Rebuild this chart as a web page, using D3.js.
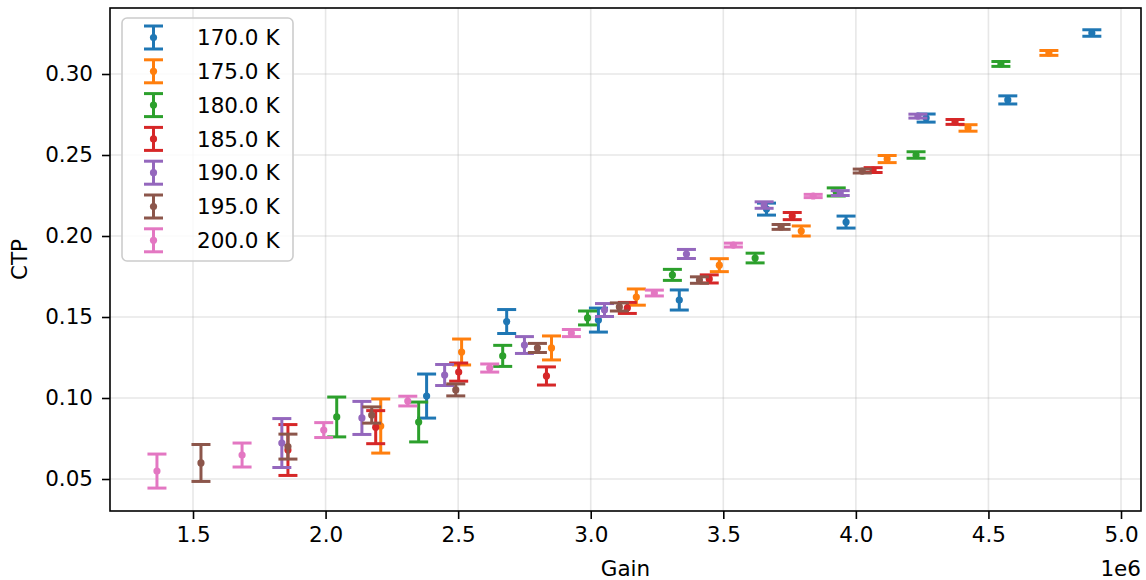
<!DOCTYPE html>
<html>
<head>
<meta charset="utf-8">
<script src="https://cdn.jsdelivr.net/npm/d3@7"></script>
<style>
  html, body { margin: 0; padding: 0; background: #fff; }
  svg { display: block; font-family: "DejaVu Sans", sans-serif; }
</style>
</head>
<body>
<svg id="chart" width="1146" height="580"></svg>
<script>
// Temperatures of each measurement series (K)
const temps = [170, 175, 180, 185, 190, 195, 200];
const colors = ["#1f77b4", "#ff7f0e", "#2ca02c", "#d62728", "#9467bd", "#8c564b", "#e377c2"];

// Gain (x 1e6), CTP and CTP uncertainty for each temperature
const gain170 = [2.381, 2.683, 3.029, 3.334, 3.663, 3.963, 4.265, 4.573, 4.890];
const ctp170  = [0.1012, 0.1472, 0.1481, 0.1605, 0.2166, 0.2086, 0.2728, 0.2840, 0.3253];
const err170  = [0.0136, 0.0074, 0.0074, 0.0062, 0.0037, 0.0037, 0.0025, 0.0025, 0.0020];

const gain175 = [2.208, 2.513, 2.852, 3.172, 3.485, 3.794, 4.118, 4.423, 4.728];
const ctp175  = [0.0827, 0.1284, 0.1309, 0.1623, 0.1820, 0.2031, 0.2475, 0.2667, 0.3130];
const err175  = [0.0167, 0.0080, 0.0074, 0.0050, 0.0040, 0.0031, 0.0022, 0.0020, 0.0015];

const gain180 = [2.042, 2.351, 2.668, 2.988, 3.308, 3.620, 3.926, 4.227, 4.547];
const ctp180  = [0.0883, 0.0852, 0.1260, 0.1494, 0.1760, 0.1864, 0.2272, 0.2500, 0.3062];
const err180  = [0.0123, 0.0123, 0.0065, 0.0043, 0.0034, 0.0030, 0.0025, 0.0020, 0.0015];

const gain185 = [1.858, 2.189, 2.502, 2.833, 3.138, 3.447, 3.760, 4.065, 4.374];
const ctp185  = [0.0679, 0.0820, 0.1160, 0.1136, 0.1556, 0.1735, 0.2123, 0.2407, 0.2704];
const err185  = [0.0157, 0.0102, 0.0056, 0.0056, 0.0034, 0.0025, 0.0022, 0.0015, 0.0015];

const gain190 = [1.835, 2.137, 2.449, 2.750, 3.052, 3.361, 3.654, 3.941, 4.234];
const ctp190  = [0.0722, 0.0877, 0.1142, 0.1327, 0.1543, 0.1889, 0.2191, 0.2265, 0.2740];
const err190  = [0.0151, 0.0102, 0.0065, 0.0052, 0.0040, 0.0028, 0.0020, 0.0015, 0.0012];

const gain195 = [1.530, 1.858, 2.174, 2.491, 2.799, 3.108, 3.410, 3.718, 4.024];
const ctp195  = [0.0599, 0.0700, 0.0895, 0.1050, 0.1309, 0.1562, 0.1728, 0.2056, 0.2401];
const err195  = [0.0114, 0.0077, 0.0050, 0.0037, 0.0028, 0.0025, 0.0020, 0.0015, 0.0012];

const gain200 = [1.364, 1.685, 1.993, 2.310, 2.619, 2.927, 3.240, 3.538, 3.839];
const ctp200  = [0.0549, 0.0648, 0.0802, 0.0981, 0.1185, 0.1401, 0.1648, 0.1944, 0.2247];
const err200  = [0.0105, 0.0074, 0.0046, 0.0030, 0.0025, 0.0022, 0.0018, 0.0012, 0.0010];

const xTicks = [1.5, 2.0, 2.5, 3.0, 3.5, 4.0, 4.5, 5.0];
const yTicks = [0.05, 0.10, 0.15, 0.20, 0.25, 0.30];

const gains = [gain170, gain175, gain180, gain185, gain190, gain195, gain200];
const ctps  = [ctp170, ctp175, ctp180, ctp185, ctp190, ctp195, ctp200];
const errs  = [err170, err175, err180, err185, err190, err195, err200];

const series = temps.map((t, i) => ({
  label: t.toFixed(1) + " K",
  color: colors[i],
  points: gains[i].map((g, j) => ({ x: g * 1e6, y: ctps[i][j], e: errs[i][j] }))
}));

const svg = d3.select("#chart");
const plot = { left: 110, right: 1141, top: 8, bottom: 511 };

const x = d3.scaleLinear().domain([1.1869e6, 5.0754e6]).range([plot.left, plot.right]);
const y = d3.scaleLinear().domain([0.03025, 0.34074]).range([plot.bottom, plot.top]);

const fontSize = 21.5;

// grid
const grid = svg.append("g");
grid.selectAll(".gx").data(xTicks).join("line")
  .attr("x1", d => x(d * 1e6)).attr("x2", d => x(d * 1e6))
  .attr("y1", plot.top).attr("y2", plot.bottom)
  .attr("stroke", "#b0b0b0").attr("stroke-opacity", 0.3).attr("stroke-width", 1.6);
grid.selectAll(".gy").data(yTicks).join("line")
  .attr("x1", plot.left).attr("x2", plot.right)
  .attr("y1", d => y(d)).attr("y2", d => y(d))
  .attr("stroke", "#b0b0b0").attr("stroke-opacity", 0.3).attr("stroke-width", 1.6);

// error bars
const capHalf = 9.5;
series.forEach(s => {
  const g = svg.append("g").attr("stroke", s.color).attr("fill", s.color);
  s.points.forEach(p => {
    const cx = x(p.x), y0 = y(p.y - p.e), y1 = y(p.y + p.e);
    g.append("line").attr("x1", cx).attr("x2", cx).attr("y1", y0).attr("y2", y1).attr("stroke-width", 3);
    g.append("line").attr("x1", cx - capHalf).attr("x2", cx + capHalf).attr("y1", y0).attr("y2", y0).attr("stroke-width", 3);
    g.append("line").attr("x1", cx - capHalf).attr("x2", cx + capHalf).attr("y1", y1).attr("y2", y1).attr("stroke-width", 3);
    g.append("circle").attr("cx", cx).attr("cy", y(p.y)).attr("r", 3.6).attr("stroke", "none");
  });
});

// axes
const xAxis = d3.axisBottom(x).tickValues(xTicks.map(d => d * 1e6))
  .tickFormat(d => (d / 1e6).toFixed(1)).tickSize(8).tickPadding(8);
const yAxis = d3.axisLeft(y).tickValues(yTicks)
  .tickFormat(d => d.toFixed(2)).tickSize(8).tickPadding(9);

const gx = svg.append("g").attr("transform", `translate(0,${plot.bottom})`).call(xAxis);
const gy = svg.append("g").attr("transform", `translate(${plot.left},0)`).call(yAxis);
[gx, gy].forEach(g => {
  g.select(".domain").remove();
  g.selectAll(".tick line").attr("stroke", "#000").attr("stroke-width", 1.6);
  g.selectAll(".tick text").attr("fill", "#000").style("font-size", fontSize + "px")
    .style("font-family", "DejaVu Sans");
});

// frame
svg.append("rect").attr("x", plot.left).attr("y", plot.top)
  .attr("width", plot.right - plot.left).attr("height", plot.bottom - plot.top)
  .attr("fill", "none").attr("stroke", "#000").attr("stroke-width", 1.6);

// axis labels
svg.append("text").attr("x", (plot.left + plot.right) / 2).attr("y", 576)
  .attr("text-anchor", "middle").style("font-size", fontSize + "px").text("Gain");
svg.append("text").attr("transform", `translate(27,${(plot.top + plot.bottom) / 2}) rotate(-90)`)
  .attr("text-anchor", "middle").style("font-size", fontSize + "px").text("CTP");
svg.append("text").attr("x", plot.right).attr("y", 576)
  .attr("text-anchor", "end").style("font-size", fontSize + "px").text("1e6");

// legend
const leg = svg.append("g");
leg.append("rect").attr("x", 122).attr("y", 18).attr("width", 171).attr("height", 243)
  .attr("rx", 5).attr("fill", "#fff").attr("fill-opacity", 0.8)
  .attr("stroke", "#cccccc").attr("stroke-width", 1.6);
series.forEach((s, i) => {
  const cy = 37.5 + i * 33.8;
  const cx = 153.5;
  const g = leg.append("g").attr("stroke", s.color).attr("fill", s.color);
  g.append("line").attr("x1", cx).attr("x2", cx).attr("y1", cy - 11.5).attr("y2", cy + 11.5).attr("stroke-width", 3);
  g.append("line").attr("x1", cx - capHalf).attr("x2", cx + capHalf).attr("y1", cy - 11.5).attr("y2", cy - 11.5).attr("stroke-width", 3);
  g.append("line").attr("x1", cx - capHalf).attr("x2", cx + capHalf).attr("y1", cy + 11.5).attr("y2", cy + 11.5).attr("stroke-width", 3);
  g.append("circle").attr("cx", cx).attr("cy", cy).attr("r", 3.6).attr("stroke", "none");
  leg.append("text").attr("x", 197).attr("y", cy).attr("dy", "0.36em")
    .style("font-size", fontSize + "px").attr("fill", "#000").text(s.label);
});
</script>
</body>
</html>
